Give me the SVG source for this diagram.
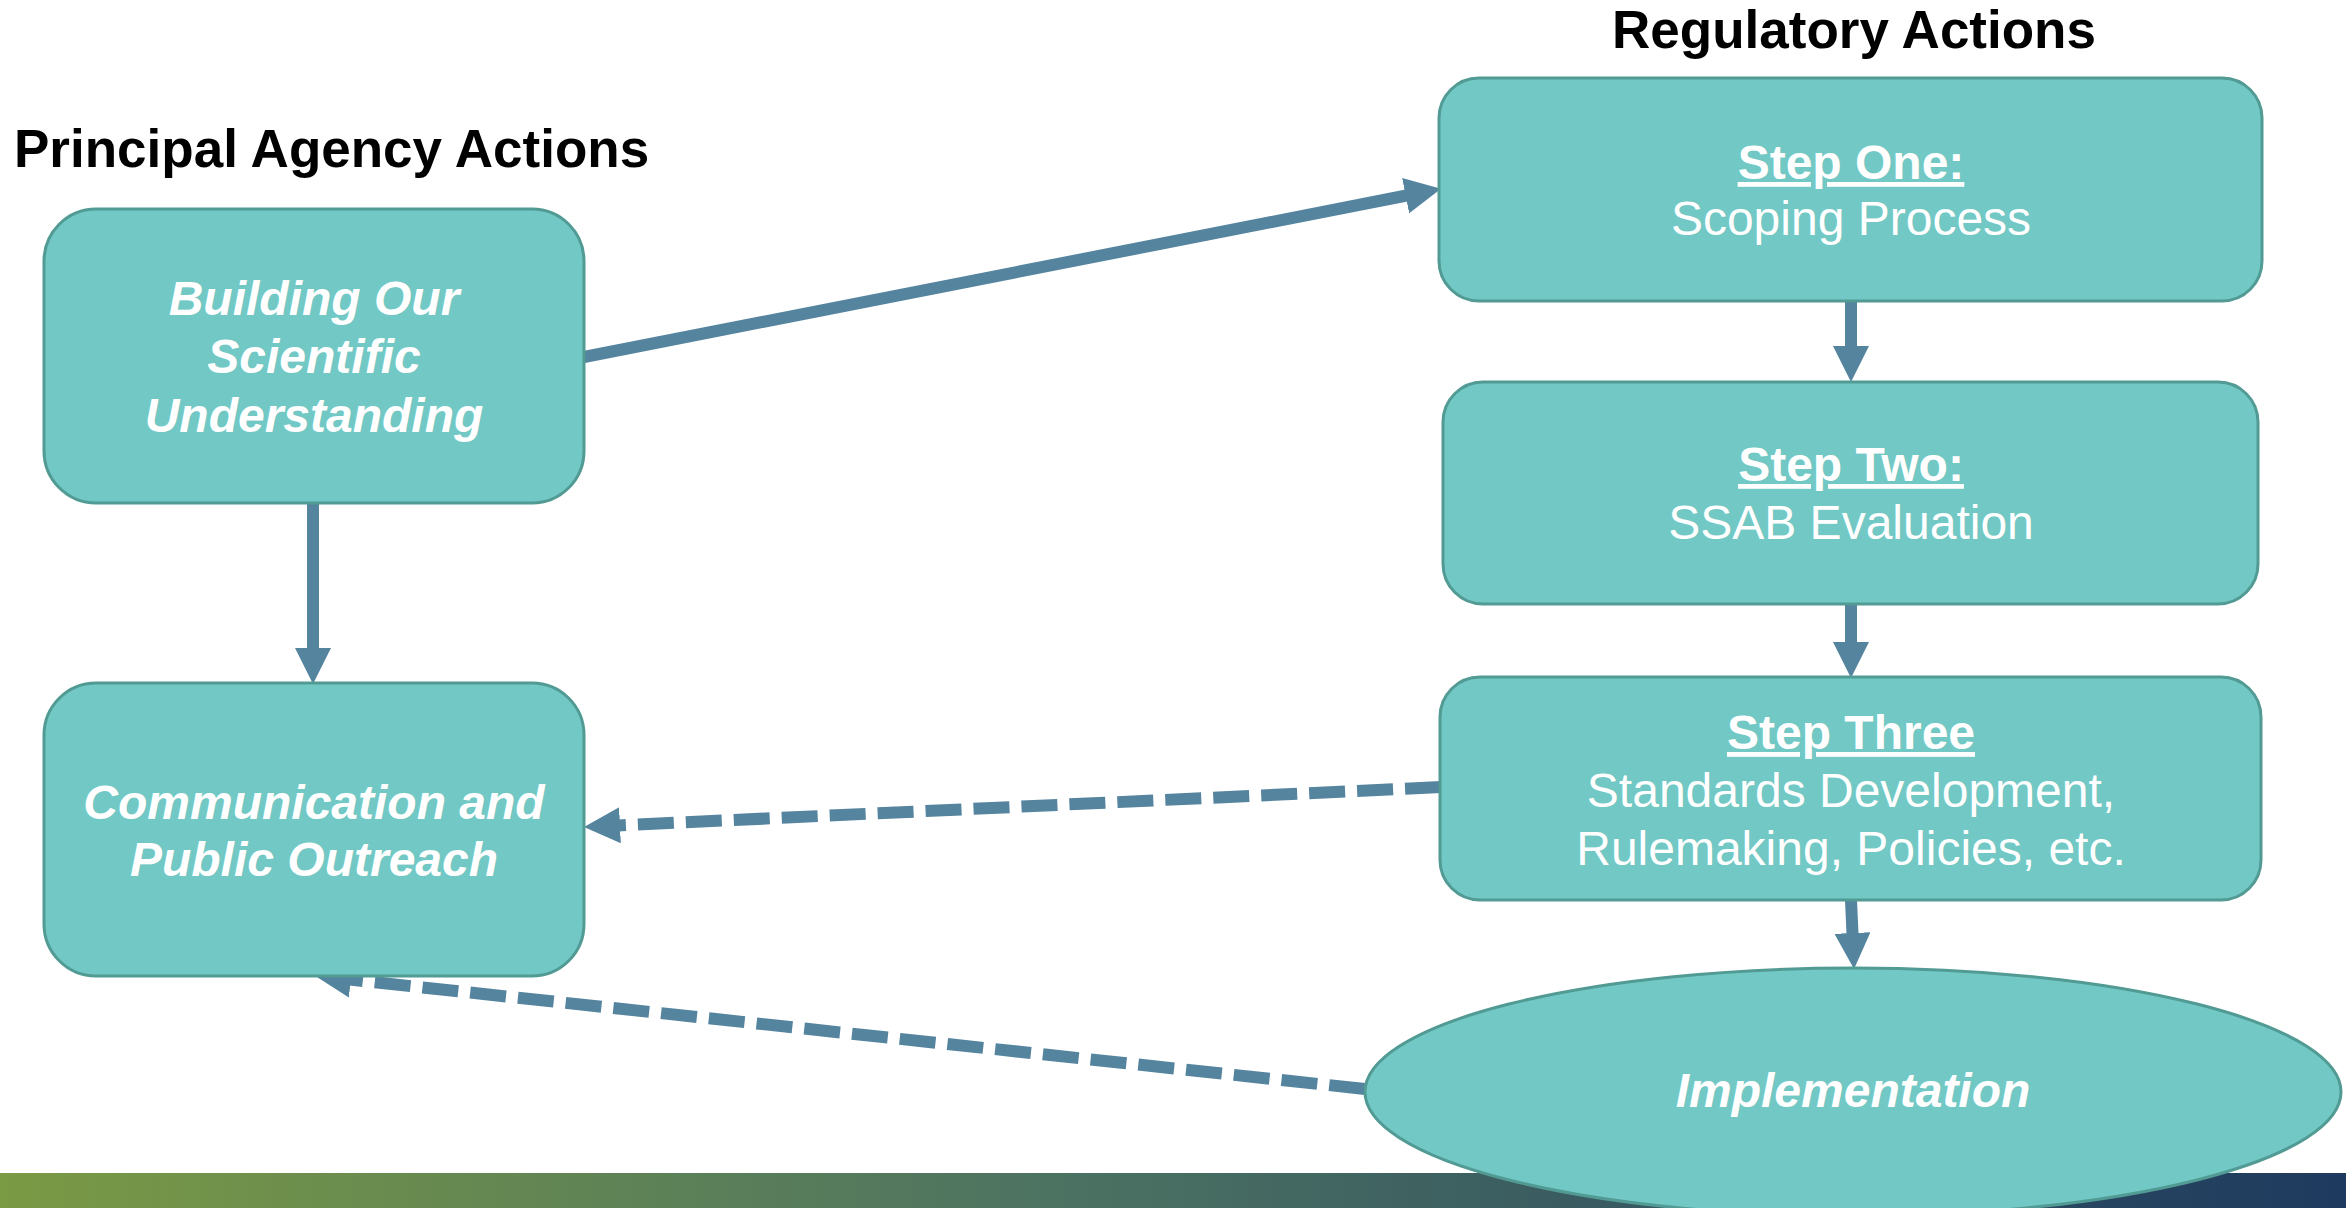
<svg xmlns="http://www.w3.org/2000/svg" width="2346" height="1208" viewBox="0 0 2346 1208">
<style>
.box{fill:#71C8C4;stroke:#529A94;stroke-width:3}
.t{font-family:"Liberation Sans",Arial,sans-serif;fill:#FFFFFF;font-size:48px;text-anchor:middle}
.bi{font-weight:bold;font-style:italic}
.b{font-weight:bold}
.u{text-decoration:underline}
.title{font-family:"Liberation Sans",Arial,sans-serif;font-weight:bold;font-size:53px;fill:#000000}
.conn{fill:none;stroke:#55849E;stroke-width:12}
.dash{stroke-dasharray:36 12}
</style>
<defs>
<linearGradient id="bar" x1="0" y1="0" x2="1" y2="0">
<stop offset="0" stop-color="#7A9A44"/>
<stop offset="0.45" stop-color="#4C7262"/>
<stop offset="1" stop-color="#1E3A5F"/>
</linearGradient>
<marker id="ah" viewBox="0 0 36 36" markerWidth="36" markerHeight="36" markerUnits="userSpaceOnUse" refX="1" refY="18" orient="auto">
<path d="M0,0 L36,18 L0,36 Z" fill="#55849E"/>
</marker>
</defs>
<rect x="0" y="1173" width="2346" height="35" fill="url(#bar)"/>
<text class="title" x="14" y="167">Principal Agency Actions</text>
<text class="title" x="1854" y="48" text-anchor="middle">Regulatory Actions</text>
<g id="connectors">
<path class="conn" d="M584,357 L1406.6,195.5" marker-end="url(#ah)"/>
<path class="conn" d="M313,503 L313,649" marker-end="url(#ah)"/>
<path class="conn" d="M1851,301 L1851,347" marker-end="url(#ah)"/>
<path class="conn" d="M1851,603 L1851,643" marker-end="url(#ah)"/>
<path class="conn" d="M1851,900 L1852.5,934" marker-end="url(#ah)"/>
<path class="conn dash" d="M1441,787 L619,825.4" marker-end="url(#ah)"/>
<path class="conn dash" d="M1365,1089 L349.8,979.6" marker-end="url(#ah)"/>
</g>
<g id="building">
<rect class="box" x="44" y="209" width="540" height="294" rx="52" ry="52"/>
<text class="t bi" x="314" y="315">Building Our</text>
<text class="t bi" x="314" y="373">Scientific</text>
<text class="t bi" x="314" y="432">Understanding</text>
</g>
<g id="communication">
<rect class="box" x="44" y="683" width="540" height="293" rx="52" ry="52"/>
<text class="t bi" x="314" y="819">Communication and</text>
<text class="t bi" x="314" y="876">Public Outreach</text>
</g>
<g id="step1">
<rect class="box" x="1439" y="78" width="823" height="223" rx="40" ry="40"/>
<text class="t b u" x="1851" y="179">Step One:</text>
<text class="t" x="1851" y="235">Scoping Process</text>
</g>
<g id="step2">
<rect class="box" x="1443" y="382" width="815" height="222" rx="40" ry="40"/>
<text class="t b u" x="1851" y="481">Step Two:</text>
<text class="t" x="1851" y="539">SSAB Evaluation</text>
</g>
<g id="step3">
<rect class="box" x="1440" y="677" width="821" height="223" rx="40" ry="40"/>
<text class="t b u" x="1851" y="749">Step Three</text>
<text class="t" x="1851" y="807">Standards Development,</text>
<text class="t" x="1851" y="865">Rulemaking, Policies, etc.</text>
</g>
<g id="implementation">
<ellipse class="box" cx="1853" cy="1092" rx="488" ry="124"/>
<text class="t bi" x="1853" y="1107">Implementation</text>
</g>
</svg>
